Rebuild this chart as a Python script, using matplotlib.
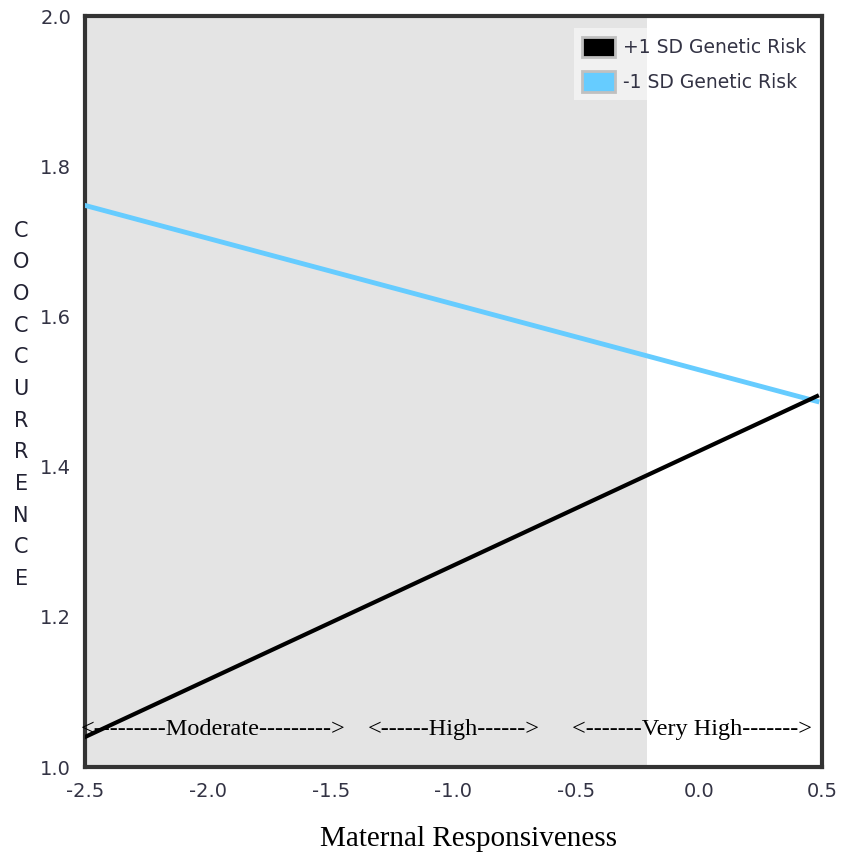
import matplotlib
matplotlib.use('Agg')
import matplotlib.pyplot as plt
from matplotlib.patches import Patch

# data
x_ends = [-2.5, 0.48]
high_risk = [1.04, 1.494]     # +1 SD genetic risk
low_risk = [1.748, 1.487]     # -1 SD genetic risk
shade_span = [-2.5, -0.21]
x_ticks = [-2.5, -2.0, -1.5, -1.0, -0.5, 0.0, 0.5]
y_ticks = [1.0, 1.2, 1.4, 1.6, 1.8, 2.0]
zone_labels = ['<---------Moderate--------->', '<------High------>',
               '<-------Very High------->']
zone_x = [-1.98, -1.0, -0.03]

fig = plt.figure(figsize=(8.46, 8.67), dpi=100)
ax = fig.add_axes([0.1005, 0.1153, 0.871, 0.866])

ax.axvspan(shade_span[0], shade_span[1], color='#e4e4e4', zorder=0, lw=0)
ax.plot(x_ends, low_risk, color='#66ccff', lw=3.5, zorder=3)
ax.plot(x_ends, high_risk, color='black', lw=3, zorder=3)

for lab, xx in zip(zone_labels, zone_x):
    ax.text(xx, 1.05, lab, family='Liberation Serif', fontsize=17.5,
            ha='center', va='center', zorder=4)

ax.set_xlim(-2.5, 0.5)
ax.set_ylim(1.0, 2.0)
ax.set_xticks(x_ticks)
ax.set_xticklabels(['%.1f' % v for v in x_ticks])
ax.set_yticks(y_ticks)
ax.set_yticklabels(['%.1f' % v for v in y_ticks])
ax.tick_params(length=0, labelsize=14, labelcolor='#333344')
ax.tick_params(axis='x', pad=11)
ax.tick_params(axis='y', pad=10)

for s in ax.spines.values():
    s.set_linewidth(3)
    s.set_color('#333333')

handles = [Patch(facecolor='black', edgecolor='#c0c0c0', lw=2),
           Patch(facecolor='#66ccff', edgecolor='#c0c0c0', lw=2)]
leg = ax.legend(handles, ['+1 SD Genetic Risk', '-1 SD Genetic Risk'],
                loc='upper right', fontsize=13.5, frameon=True, fancybox=False,
                handlelength=1.75, handleheight=1.3, handletextpad=0.45,
                labelspacing=0.75, borderpad=0.45, borderaxespad=0,
                bbox_to_anchor=(0.9905, 0.984))
leg.get_frame().set_facecolor('white')
leg.get_frame().set_edgecolor('none')
leg.get_frame().set_alpha(0.5)
for t in leg.get_texts():
    t.set_color('#333344')

fig.text(0.025, 0.533, '\n'.join('COOCCURRENCE'), ha='center', va='center',
         fontsize=15, color='#222233', linespacing=1.73)
fig.text(0.554, 0.032, 'Maternal Responsiveness', family='Liberation Serif',
         fontsize=21, ha='center', va='center')

fig.savefig('out.png', dpi=100)
